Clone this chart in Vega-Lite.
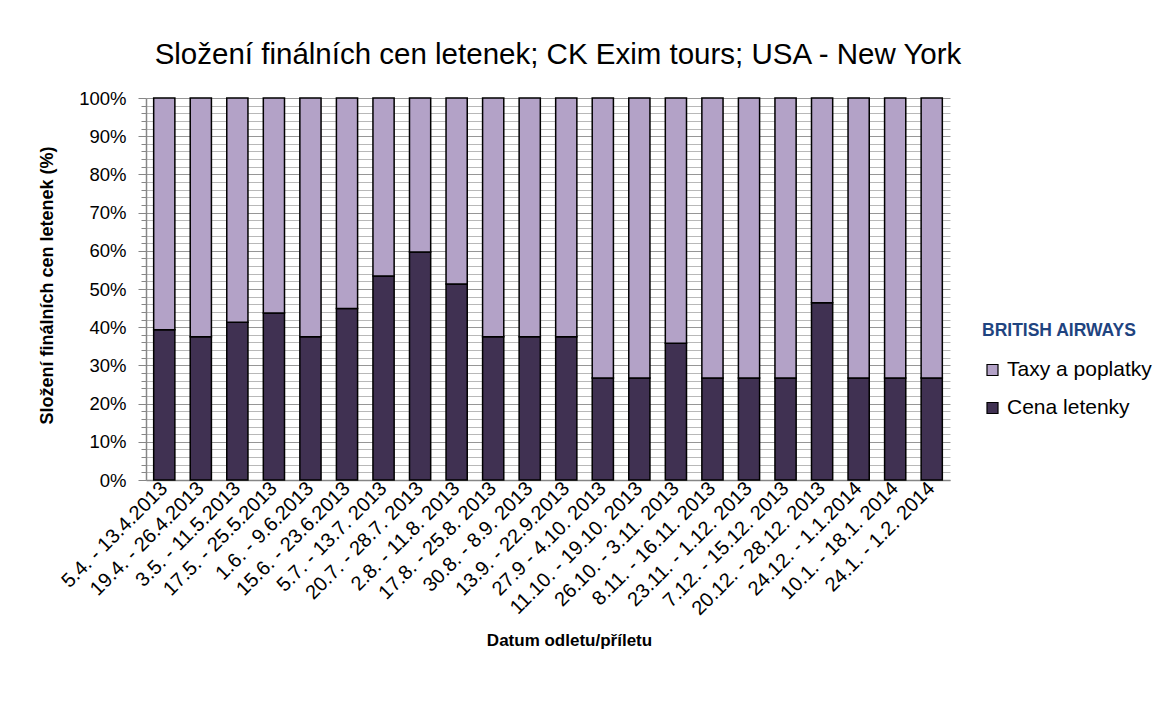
{
  "$schema": "https://vega.github.io/schema/vega-lite/v6.json",
  "autosize": {"type": "none"},
  "width": 804,
  "height": 382,
  "padding": {"left": 146, "top": 98, "right": 219, "bottom": 224},
  "background": "white",
  "title": {
    "text": "Složení finálních cen letenek; CK Exim tours; USA - New York",
    "font": "Liberation Sans",
    "fontSize": 29.5,
    "fontWeight": "normal",
    "color": "#000000",
    "anchor": "middle",
    "frame": "group",
    "offset": 19,
    "dx": 10
  },
  "data": {
    "values": [
      {"obdobi": "5.4. - 13.4.2013", "slozka": "Cena letenky", "podil": 0.393},
      {"obdobi": "5.4. - 13.4.2013", "slozka": "Taxy a poplatky", "podil": 0.607},
      {"obdobi": "19.4. - 26.4.2013", "slozka": "Cena letenky", "podil": 0.375},
      {"obdobi": "19.4. - 26.4.2013", "slozka": "Taxy a poplatky", "podil": 0.625},
      {"obdobi": "3.5. - 11.5.2013", "slozka": "Cena letenky", "podil": 0.413},
      {"obdobi": "3.5. - 11.5.2013", "slozka": "Taxy a poplatky", "podil": 0.587},
      {"obdobi": "17.5. - 25.5.2013", "slozka": "Cena letenky", "podil": 0.437},
      {"obdobi": "17.5. - 25.5.2013", "slozka": "Taxy a poplatky", "podil": 0.563},
      {"obdobi": "1.6. - 9.6.2013", "slozka": "Cena letenky", "podil": 0.375},
      {"obdobi": "1.6. - 9.6.2013", "slozka": "Taxy a poplatky", "podil": 0.625},
      {"obdobi": "15.6. - 23.6.2013", "slozka": "Cena letenky", "podil": 0.449},
      {"obdobi": "15.6. - 23.6.2013", "slozka": "Taxy a poplatky", "podil": 0.551},
      {"obdobi": "5.7. - 13.7. 2013", "slozka": "Cena letenky", "podil": 0.534},
      {"obdobi": "5.7. - 13.7. 2013", "slozka": "Taxy a poplatky", "podil": 0.466},
      {"obdobi": "20.7. - 28.7. 2013", "slozka": "Cena letenky", "podil": 0.597},
      {"obdobi": "20.7. - 28.7. 2013", "slozka": "Taxy a poplatky", "podil": 0.403},
      {"obdobi": "2.8. - 11.8. 2013", "slozka": "Cena letenky", "podil": 0.513},
      {"obdobi": "2.8. - 11.8. 2013", "slozka": "Taxy a poplatky", "podil": 0.487},
      {"obdobi": "17.8. - 25.8. 2013", "slozka": "Cena letenky", "podil": 0.375},
      {"obdobi": "17.8. - 25.8. 2013", "slozka": "Taxy a poplatky", "podil": 0.625},
      {"obdobi": "30.8. - 8.9. 2013", "slozka": "Cena letenky", "podil": 0.375},
      {"obdobi": "30.8. - 8.9. 2013", "slozka": "Taxy a poplatky", "podil": 0.625},
      {"obdobi": "13.9. - 22.9.2013", "slozka": "Cena letenky", "podil": 0.375},
      {"obdobi": "13.9. - 22.9.2013", "slozka": "Taxy a poplatky", "podil": 0.625},
      {"obdobi": "27.9 - 4.10. 2013", "slozka": "Cena letenky", "podil": 0.267},
      {"obdobi": "27.9 - 4.10. 2013", "slozka": "Taxy a poplatky", "podil": 0.733},
      {"obdobi": "11.10. - 19.10. 2013", "slozka": "Cena letenky", "podil": 0.267},
      {"obdobi": "11.10. - 19.10. 2013", "slozka": "Taxy a poplatky", "podil": 0.733},
      {"obdobi": "26.10. - 3.11. 2013", "slozka": "Cena letenky", "podil": 0.358},
      {"obdobi": "26.10. - 3.11. 2013", "slozka": "Taxy a poplatky", "podil": 0.642},
      {"obdobi": "8.11. - 16.11. 2013", "slozka": "Cena letenky", "podil": 0.267},
      {"obdobi": "8.11. - 16.11. 2013", "slozka": "Taxy a poplatky", "podil": 0.733},
      {"obdobi": "23.11. - 1.12. 2013", "slozka": "Cena letenky", "podil": 0.267},
      {"obdobi": "23.11. - 1.12. 2013", "slozka": "Taxy a poplatky", "podil": 0.733},
      {"obdobi": "7.12. - 15.12. 2013", "slozka": "Cena letenky", "podil": 0.267},
      {"obdobi": "7.12. - 15.12. 2013", "slozka": "Taxy a poplatky", "podil": 0.733},
      {"obdobi": "20.12. - 28.12. 2013", "slozka": "Cena letenky", "podil": 0.464},
      {"obdobi": "20.12. - 28.12. 2013", "slozka": "Taxy a poplatky", "podil": 0.536},
      {"obdobi": "24.12. - 1.1.2014", "slozka": "Cena letenky", "podil": 0.267},
      {"obdobi": "24.12. - 1.1.2014", "slozka": "Taxy a poplatky", "podil": 0.733},
      {"obdobi": "10.1. - 18.1. 2014", "slozka": "Cena letenky", "podil": 0.267},
      {"obdobi": "10.1. - 18.1. 2014", "slozka": "Taxy a poplatky", "podil": 0.733},
      {"obdobi": "24.1. - 1.2. 2014", "slozka": "Cena letenky", "podil": 0.267},
      {"obdobi": "24.1. - 1.2. 2014", "slozka": "Taxy a poplatky", "podil": 0.733}
    ]
  },
  "mark": {"type": "bar", "stroke": "#000000", "strokeWidth": 1.5},
  "encoding": {
    "x": {
      "field": "obdobi",
      "type": "nominal",
      "sort": null,
      "scale": {"paddingInner": 0.42, "paddingOuter": 0.21},
      "axis": {
        "title": "Datum odletu/příletu",
        "titleFont": "Liberation Sans",
        "titleFontSize": 17,
        "titleFontWeight": "bold",
        "titleColor": "#000000",
        "titleX": 423,
        "titleY": 160,
        "titleAlign": "center",
        "titleBaseline": "middle",
        "labelAngle": -45,
        "labelAlign": "right",
        "labelBaseline": "middle",
        "labelFont": "Liberation Sans",
        "labelFontSize": 20,
        "labelColor": "#000000",
        "labelPadding": 5,
        "labelOverlap": false,
        "labelLimit": 300,
        "ticks": false,
        "domainColor": "#868686",
        "domainWidth": 1.5,
        "grid": false
      }
    },
    "y": {
      "field": "podil",
      "type": "quantitative",
      "stack": "zero",
      "scale": {"domain": [0, 1], "nice": false},
      "axis": {
        "title": "Složení finálních cen letenek (%)",
        "titleFont": "Liberation Sans",
        "titleFontSize": 18,
        "titleFontWeight": "bold",
        "titleColor": "#000000",
        "titleX": -99,
        "titleY": 187,
        "titleAngle": -90,
        "titleAlign": "center",
        "titleBaseline": "middle",
        "values": [0, 0.02, 0.04, 0.06, 0.08, 0.1, 0.12, 0.14, 0.16, 0.18, 0.2, 0.22, 0.24, 0.26, 0.28, 0.3, 0.32, 0.34, 0.36, 0.38, 0.4, 0.42, 0.44, 0.46, 0.48, 0.5, 0.52, 0.54, 0.56, 0.58, 0.6, 0.62, 0.64, 0.66, 0.68, 0.7, 0.72, 0.74, 0.76, 0.78, 0.8, 0.82, 0.84, 0.86, 0.88, 0.9, 0.92, 0.94, 0.96, 0.98, 1],
        "format": ".0%",
        "labelExpr": "(round(datum.value * 100) % 10 == 0) ? datum.label : ''",
        "labelFont": "Liberation Sans",
        "labelFontSize": 18.5,
        "labelColor": "#000000",
        "labelPadding": 12,
        "labelOverlap": false,
        "tickColor": "#868686",
        "tickSize": {"condition": {"test": "round(datum.value * 100) % 10 == 0", "value": 8}, "value": 5},
        "domainColor": "#868686",
        "domainWidth": 1.5,
        "grid": true,
        "gridColor": {"condition": {"test": "round(datum.value * 100) % 10 == 0", "value": "#969696"}, "value": "#b8b8b8"},
        "gridWidth": 1
      }
    },
    "color": {
      "field": "slozka",
      "type": "nominal",
      "scale": {"domain": ["Taxy a poplatky", "Cena letenky"], "range": ["#b3a2c7", "#403152"]},
      "legend": {
        "title": "BRITISH AIRWAYS",
        "titleFont": "Liberation Sans",
        "titleFontSize": 17.5,
        "titleFontWeight": "bold",
        "titleColor": "#1f4480",
        "titlePadding": 20,
        "orient": "none",
        "legendX": 836,
        "legendY": 224,
        "symbolType": "square",
        "symbolSize": 121,
        "symbolStrokeColor": "#000000",
        "symbolStrokeWidth": 1.2,
        "labelFont": "Liberation Sans",
        "labelFontSize": 21,
        "labelColor": "#000000",
        "labelOffset": 4,
        "rowPadding": 16,
        "padding": 0
      }
    },
    "order": {"field": "slozka", "sort": "ascending"}
  },
  "config": {
    "view": {"stroke": null}
  }
}
